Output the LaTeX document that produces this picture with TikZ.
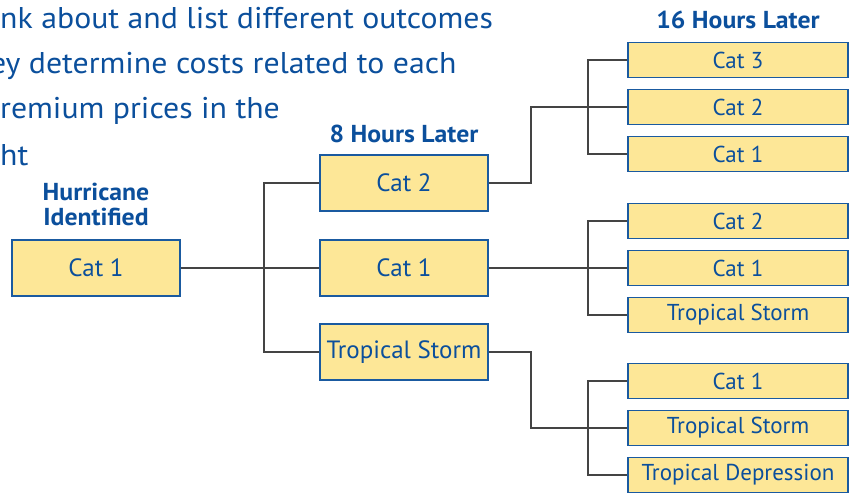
\documentclass[tikz,border=0pt]{standalone}
\usepackage{fontspec}
\setmainfont{PT Sans}
\newfontfamily\parafont[FakeStretch=1.06]{PT Sans}
\newfontfamily\headfont[FakeStretch=1.05]{PT Sans Bold}
\definecolor{txtblue}{HTML}{0B4F9C}
\definecolor{boxfill}{HTML}{FDE797}
\definecolor{boxline}{HTML}{1A5AA0}
\definecolor{conn}{HTML}{444444}
\begin{document}
\begin{tikzpicture}[x=1pt,y=-1pt,
  catbox/.style={draw=boxline, fill=boxfill, line width=1.2pt, text=txtblue, inner sep=0pt},
  midbox/.style={catbox, minimum width=168pt, minimum height=56pt, font=\fontsize{25}{27}\selectfont},
  rbox/.style={catbox, minimum width=220pt, minimum height=35pt, font=\fontsize{23}{25}\selectfont},
  head/.style={text=txtblue, font=\headfont\fontsize{24.5}{26}\selectfont, anchor=base, inner sep=0pt},
  para/.style={text=txtblue, font=\parafont\fontsize{30}{32}\selectfont, anchor=base west, inner sep=0pt},
  link/.style={draw=conn, line width=1.2pt}]
\useasboundingbox (0,0) rectangle (854,493);
% paragraph
\node[para] (p1) at (0,28) {nk about and list different outcomes};
\node[para] (p2) at (-10,73) {ey determine costs related to each};
\node[para] (p3) at (0,118) {remium prices in the};
\node[para] (p4) at (0,165) {ht};
% headings
\node[head] (h1a) at (96,200) {Hurricane};
\node[head] (h1b) at (96,225) {Identified};
\node[head] (h2) at (404,142) {8 Hours Later};
\node[head] (h3) at (738,28) {16 Hours Later};
% boxes
\node[midbox] (L) at (96,268) {Cat 1};
\node[midbox] (M1) at (404,183) {Cat 2};
\node[midbox] (M2) at (404,268) {Cat 1};
\node[midbox] (M3) at (404,352) {Tropical Storm};
\node[rbox] (R1) at (738,60) {Cat 3};
\node[rbox] (R2) at (738,107) {Cat 2};
\node[rbox] (R3) at (738,154) {Cat 1};
\node[rbox] (R4) at (738,221) {Cat 2};
\node[rbox] (R5) at (738,268) {Cat 1};
\node[rbox] (R6) at (738,315) {Tropical Storm};
\node[rbox] (R7) at (738,381) {Cat 1};
\node[rbox] (R8) at (738,428) {Tropical Storm};
\node[rbox] (R9) at (738,475) {Tropical Depression};
% trunks
\coordinate (t1) at (264,0);
\coordinate (t2) at (531,0);
\coordinate (t3) at (588,0);
% connectors
\draw[link] (L.east) -- (M2.west);
\draw[link] (M1.west) -- (M1.west -| t1) -- (M3.west -| t1) -- (M3.west);
\draw[link] (M1.east) -- (M1.east -| t2) -- (R2.west -| t2) -- (R2.west);
\draw[link] (R1.west) -- (R1.west -| t3) -- (R3.west -| t3) -- (R3.west);
\draw[link] (M2.east) -- (R5.west);
\draw[link] (R4.west) -- (R4.west -| t3) -- (R6.west -| t3) -- (R6.west);
\draw[link] (M3.east) -- (M3.east -| t2) -- (R8.west -| t2) -- (R8.west);
\draw[link] (R7.west) -- (R7.west -| t3) -- (R9.west -| t3) -- (R9.west);
\end{tikzpicture}
\end{document}
